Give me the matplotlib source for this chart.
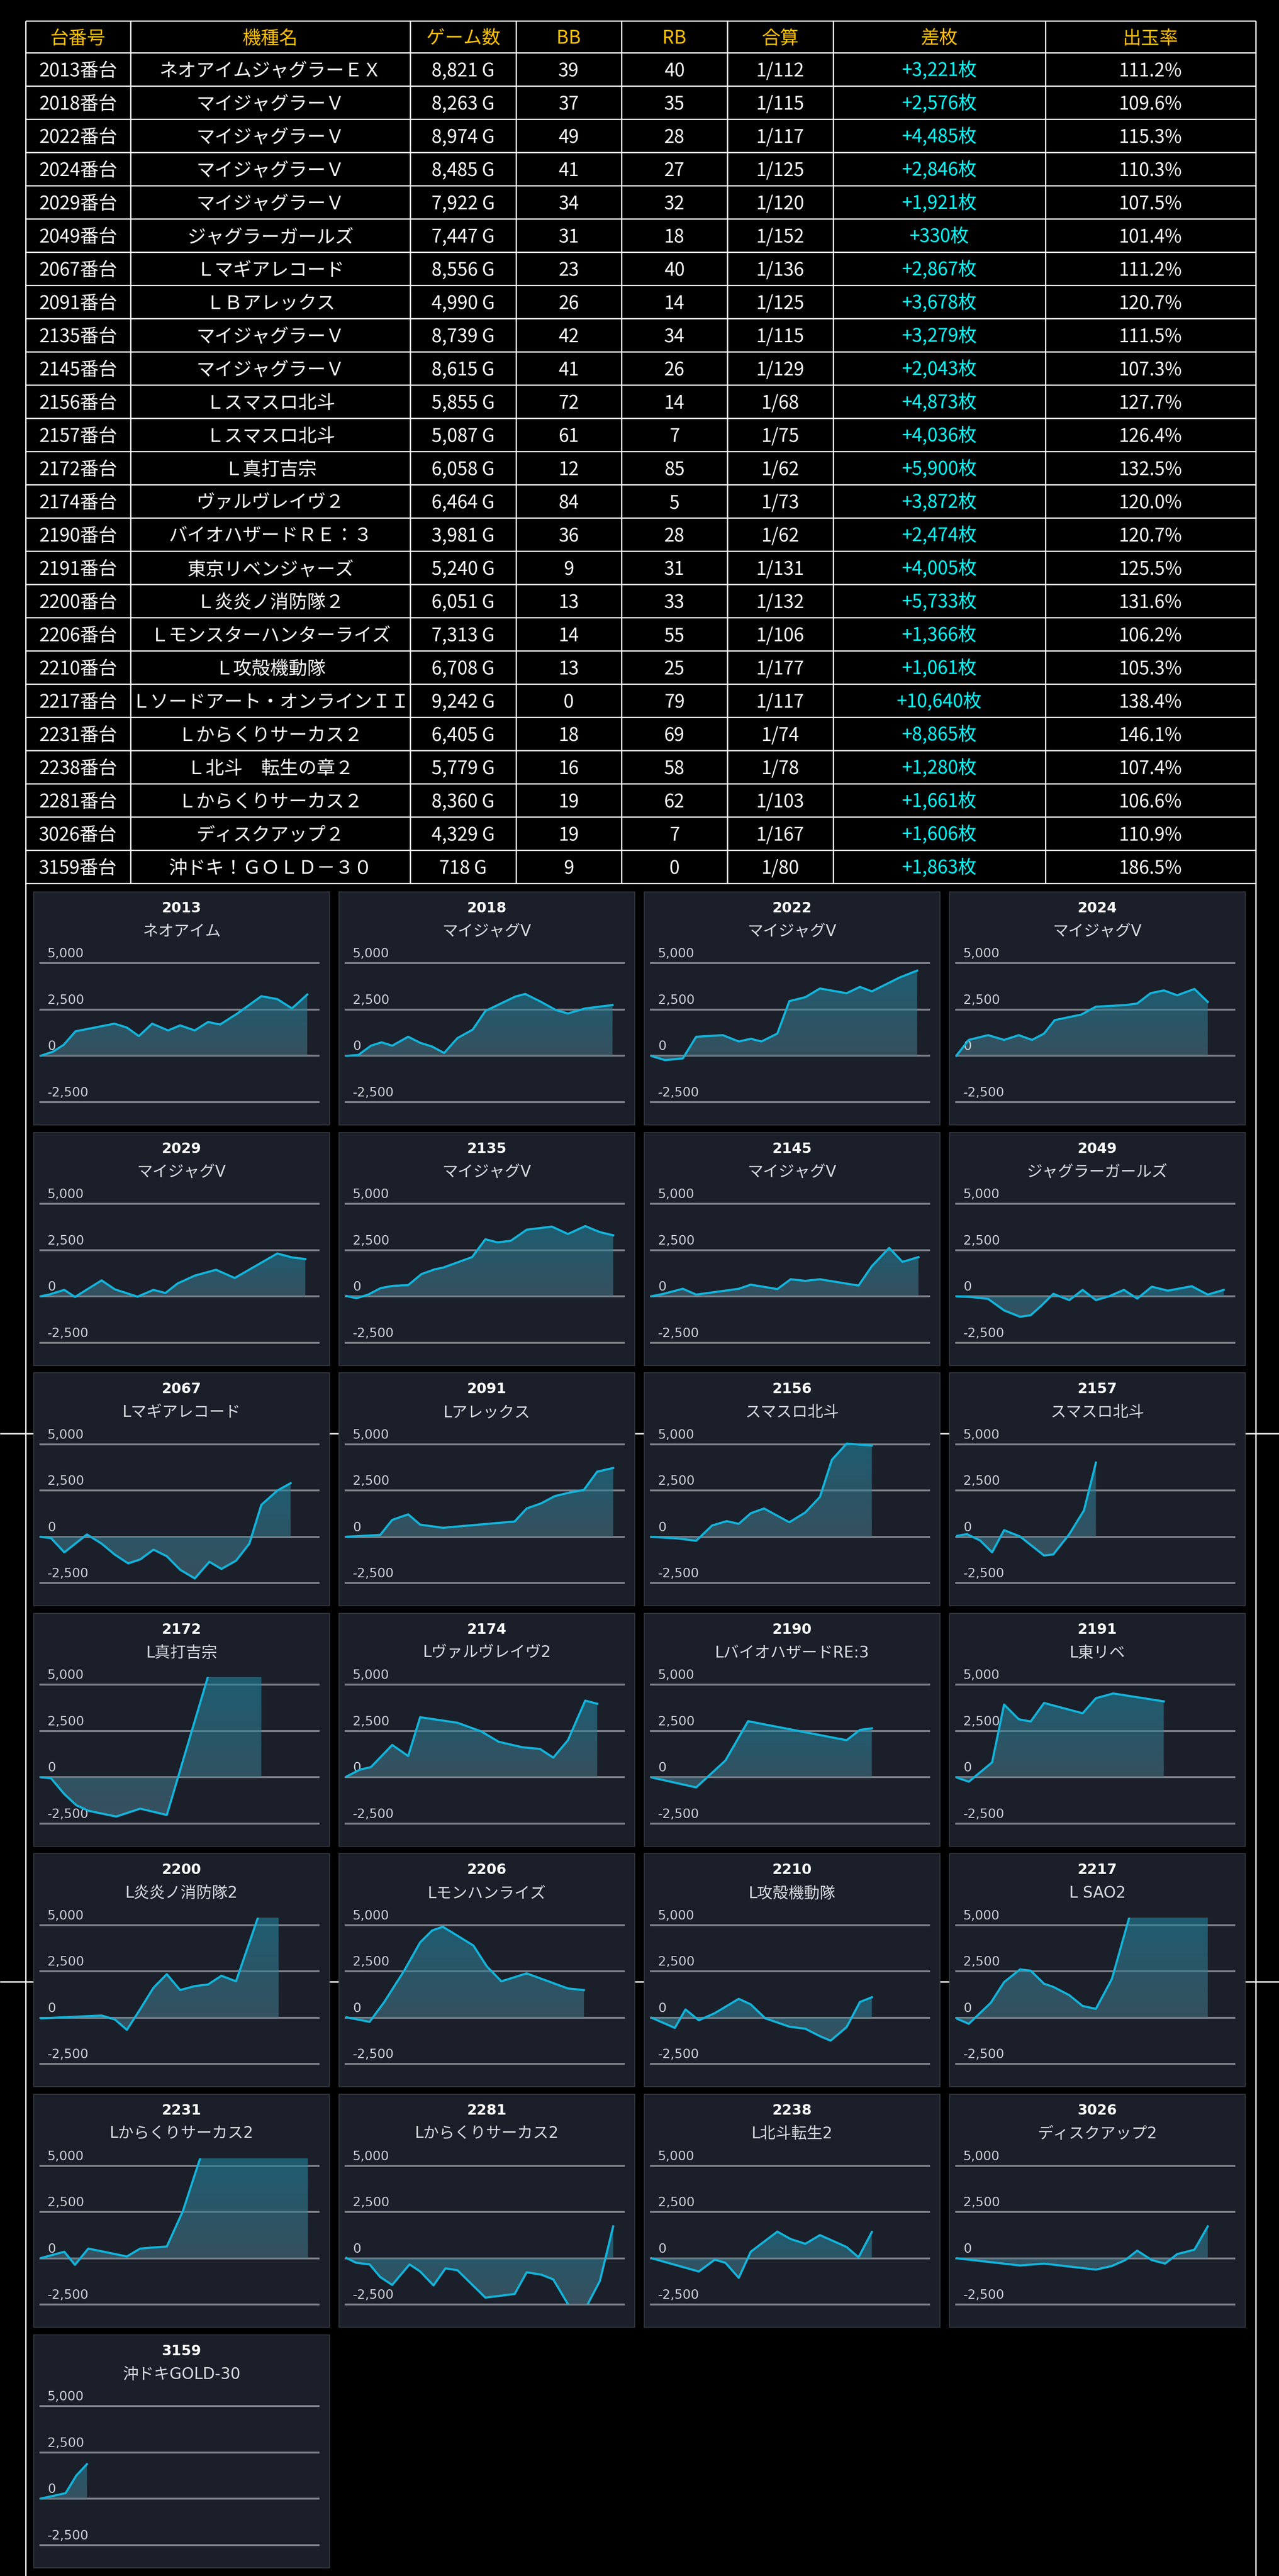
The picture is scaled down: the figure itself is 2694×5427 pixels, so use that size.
import numpy as np
import matplotlib
matplotlib.use("Agg")
import matplotlib.pyplot as plt
from matplotlib.patches import Rectangle
from matplotlib.path import Path
from matplotlib.colors import LinearSegmentedColormap

plt.rcParams['font.family'] = ['Noto Sans CJK JP', 'DejaVu Sans']

# ---- table data ----
machine_ids = [2013, 2018, 2022, 2024, 2029, 2049, 2067, 2091, 2135, 2145, 2156, 2157, 2172,
               2174, 2190, 2191, 2200, 2206, 2210, 2217, 2231, 2238, 2281, 3026, 3159]
machine_names = ["ネオアイムジャグラーＥＸ", "マイジャグラーＶ", "マイジャグラーＶ", "マイジャグラーＶ",
                 "マイジャグラーＶ", "ジャグラーガールズ", "Ｌマギアレコード", "ＬＢアレックス",
                 "マイジャグラーＶ", "マイジャグラーＶ", "Ｌスマスロ北斗", "Ｌスマスロ北斗", "Ｌ真打吉宗",
                 "ヴァルヴレイヴ２", "バイオハザードＲＥ：３", "東京リベンジャーズ", "Ｌ炎炎ノ消防隊２",
                 "Ｌモンスターハンターライズ", "Ｌ攻殻機動隊", "Ｌソードアート・オンラインＩＩ",
                 "Ｌからくりサーカス２", "Ｌ北斗　転生の章２", "Ｌからくりサーカス２", "ディスクアップ２",
                 "沖ドキ！ＧＯＬＤ－３０"]
games = [8821, 8263, 8974, 8485, 7922, 7447, 8556, 4990, 8739, 8615, 5855, 5087, 6058,
         6464, 3981, 5240, 6051, 7313, 6708, 9242, 6405, 5779, 8360, 4329, 718]
bb = [39, 37, 49, 41, 34, 31, 23, 26, 42, 41, 72, 61, 12, 84, 36, 9, 13, 14, 13, 0, 18, 16, 19, 19, 9]
rb = [40, 35, 28, 27, 32, 18, 40, 14, 34, 26, 14, 7, 85, 5, 28, 31, 33, 55, 25, 79, 69, 58, 62, 7, 0]
gousan = ["1/112", "1/115", "1/117", "1/125", "1/120", "1/152", "1/136", "1/125", "1/115", "1/129",
          "1/68", "1/75", "1/62", "1/73", "1/62", "1/131", "1/132", "1/106", "1/177", "1/117",
          "1/74", "1/78", "1/103", "1/167", "1/80"]
sa_mai = [3221, 2576, 4485, 2846, 1921, 330, 2867, 3678, 3279, 2043, 4873, 4036, 5900,
          3872, 2474, 4005, 5733, 1366, 1061, 10640, 8865, 1280, 1661, 1606, 1863]
payout = [111.2, 109.6, 115.3, 110.3, 107.5, 101.4, 111.2, 120.7, 111.5, 107.3, 127.7, 126.4, 132.5,
          120.0, 120.7, 125.5, 131.6, 106.2, 105.3, 138.4, 146.1, 107.4, 106.6, 110.9, 186.5]
headers = ["台番号", "機種名", "ゲーム数", "BB", "RB", "合算", "差枚", "出玉率"]

# ---- chart data (t = sample index, v = 差枚) ----
t_2013 = [0, 0.95, 1.75, 2.64, 5.57, 6.5, 7.4, 8.4, 9.6, 10.5, 11.6, 12.6, 13.5, 14.8, 16.6, 17.8, 18.9, 20.05]
v_2013 = [0, 229, 595, 1328, 1740, 1530, 1071, 1740, 1374, 1648, 1374, 1832, 1694, 2290, 3224, 3068, 2564, 3315]
t_2018 = [0, 0.95, 1.9, 2.7, 3.5, 4.7, 5.6, 6.5, 7.4, 8.4, 9.55, 10.5, 12.75, 13.5, 14.65, 15.8, 16.7, 18.0, 20.05]
v_2018 = [0, 46, 550, 733, 550, 1035, 705, 504, 156, 962, 1420, 2427, 3205, 3343, 2930, 2473, 2290, 2564, 2747]
t_2022 = [0, 1.07, 2.4, 3.4, 5.4, 6.6, 7.5, 8.3, 9.5, 10.4, 11.6, 12.7, 14.7, 15.7, 16.6, 18.7, 20.0]
v_2022 = [0, -230, -137, 1034, 1120, 778, 923, 778, 1205, 2957, 3171, 3641, 3385, 3726, 3487, 4239, 4607]
t_2024 = [0, 0.95, 2.4, 3.6, 4.7, 5.7, 6.6, 7.4, 9.4, 10.5, 12.7, 13.6, 14.6, 15.6, 16.6, 17.9, 18.9]
v_2024 = [0, 863, 1120, 863, 1120, 863, 1205, 1932, 2231, 2658, 2744, 2829, 3385, 3538, 3274, 3615, 2915]
t_2029 = [0, 0.65, 1.8, 2.6, 4.6, 5.6, 7.3, 8.5, 9.4, 10.3, 11.6, 13.2, 14.6, 17.8, 18.9, 19.9]
v_2029 = [0, 94, 350, -34, 863, 376, -17, 350, 180, 692, 1120, 1436, 991, 2316, 2103, 2017]
t_2135 = [0, 0.8, 1.7, 2.6, 3.5, 4.7, 5.7, 6.7, 7.3, 9.5, 10.5, 11.4, 12.4, 13.6, 15.5, 16.7, 18.0, 19.1, 20.1]
v_2135 = [34, -103, 94, 436, 564, 607, 1205, 1462, 1547, 2120, 3085, 2915, 3000, 3598, 3769, 3368, 3795, 3470, 3299]
t_2145 = [0, 0.95, 2.4, 3.4, 6.6, 7.5, 9.5, 10.5, 11.6, 12.7, 15.6, 16.6, 17.9, 18.9, 20.1]
v_2145 = [0, 137, 410, 94, 410, 632, 393, 923, 838, 923, 581, 1632, 2615, 1863, 2120]
t_2049 = [0, 1.1, 2.4, 3.6, 4.8, 5.6, 6.4, 7.3, 8.5, 9.5, 10.5, 11.5, 12.6, 13.6, 14.7, 15.9, 17.7, 18.9, 20.1]
v_2049 = [0, -34, -137, -760, -1103, -1017, -504, 137, -205, 350, -205, 9, 350, -120, 521, 308, 547, 94, 350]
t_2067 = [0, 0.8, 1.8, 3.5, 4.6, 5.6, 6.6, 7.5, 8.5, 9.5, 10.5, 11.6, 12.7, 13.6, 14.7, 15.7, 16.6, 17.8, 18.8]
v_2067 = [0, -68, -838, 128, -368, -966, -1436, -1222, -692, -1051, -1778, -2248, -1350, -1735, -1290, -368, 1726, 2496, 2897]
t_2091 = [0, 2.6, 3.5, 4.7, 5.6, 7.3, 12.7, 13.6, 14.7, 15.7, 16.8, 17.9, 18.9, 20.1]
v_2091 = [0, 103, 915, 1214, 658, 487, 829, 1530, 1812, 2197, 2385, 2538, 3521, 3718]
t_2156 = [0, 2.1, 3.4, 4.6, 5.7, 6.6, 7.5, 8.5, 10.4, 11.6, 12.7, 13.6, 14.7, 16.6]
v_2156 = [0, -94, -214, 615, 846, 701, 1273, 1530, 786, 1316, 2154, 4162, 5034, 4932]
t_2157 = [0, 0.8, 1.8, 2.7, 3.6, 4.8, 6.6, 7.3, 8.5, 9.6, 10.5]
v_2157 = [43, 145, -197, -838, 359, 17, -1008, -949, 145, 1427, 4009]
t_2172 = [0, 0.8, 1.8, 2.7, 3.6, 5.7, 7.5, 9.5, 12.7, 16.6]
v_2172 = [0, -50, -907, -1507, -1806, -2123, -1695, -2037, 5700, 5900]
t_2174 = [0, 1.1, 1.9, 3.5, 4.7, 5.6, 8.4, 10.2, 11.5, 13.3, 14.6, 15.6, 16.7, 18.0, 18.9]
v_2174 = [17, 419, 548, 1746, 1147, 3244, 2945, 2474, 1917, 1618, 1532, 1061, 2003, 4143, 3972]
t_2190 = [0, 3.4, 5.6, 7.3, 14.7, 15.7, 16.6]
v_2190 = [0, -548, 907, 3030, 2003, 2559, 2645]
t_2191 = [0, 0.95, 2.7, 3.6, 4.7, 5.6, 6.6, 9.5, 10.5, 11.8, 15.6]
v_2191 = [0, -240, 805, 3930, 3133, 3013, 4015, 3458, 4272, 4528, 4100]
t_2200 = [0, 4.6, 5.6, 6.5, 7.5, 8.5, 9.5, 10.5, 11.6, 12.6, 13.6, 14.7, 16.5, 17.9]
v_2200 = [-34, 120, -94, -653, 464, 1624, 2354, 1495, 1709, 1795, 2268, 1967, 5733, 5733]
t_2206 = [0, 1.8, 2.9, 4.4, 5.6, 6.5, 7.3, 8.4, 9.6, 10.6, 11.7, 13.6, 16.7, 17.9]
v_2206 = [34, -223, 850, 2543, 4072, 4716, 4913, 4432, 3900, 2783, 1967, 2397, 1581, 1495]
t_2210 = [0, 1.8, 2.6, 3.6, 4.8, 6.6, 7.5, 8.6, 10.4, 11.6, 12.7, 13.5, 14.7, 15.7, 16.6]
v_2210 = [17, -550, 447, -137, 249, 1022, 722, -34, -481, -593, -996, -1237, -507, 850, 1108]
t_2217 = [0, 0.95, 2.6, 3.6, 4.8, 5.6, 6.6, 7.3, 8.5, 9.5, 10.5, 11.7, 13.6, 15.6, 18.9]
v_2217 = [-34, -326, 807, 1924, 2611, 2543, 1838, 1666, 1220, 636, 481, 2096, 6940, 9800, 10640]
t_2231 = [0, 1.8, 2.6, 3.6, 6.5, 7.5, 8.5, 9.5, 10.7, 12.6, 15.0, 20.1]
v_2231 = [0, 350, -359, 521, 94, 521, 581, 632, 2530, 6700, 8500, 8865]
t_2281 = [0, 0.8, 1.8, 2.6, 3.5, 4.8, 5.6, 6.6, 7.5, 8.4, 10.5, 12.7, 13.6, 14.7, 15.6, 16.8, 18.1, 19.1, 20.1]
v_2281 = [34, -248, -333, -1017, -1445, -333, -718, -1470, -547, -650, -2129, -1932, -761, -889, -1146, -2600, -2600, -1231, 1719]
t_2238 = [0, 3.6, 4.8, 5.6, 6.6, 7.5, 9.5, 10.5, 11.6, 12.7, 14.7, 15.6, 16.6]
v_2238 = [9, -718, -77, -248, -1060, 350, 1436, 1034, 778, 1248, 607, 51, 1419]
t_3026 = [0, 4.8, 6.6, 10.5, 11.7, 12.7, 13.6, 14.7, 15.7, 16.6, 17.9, 18.9]
v_3026 = [0, -393, -291, -616, -419, -103, 410, -103, -291, 222, 462, 1719]
t_3159 = [0, 1.9, 2.7, 3.5]
v_3159 = [0, 299, 1250, 1866]

chart_ids = [2013, 2018, 2022, 2024, 2029, 2135, 2145, 2049, 2067, 2091, 2156, 2157, 2172,
             2174, 2190, 2191, 2200, 2206, 2210, 2217, 2231, 2281, 2238, 3026, 3159]
chart_names = ["ネオアイム", "マイジャグV", "マイジャグV", "マイジャグV", "マイジャグV", "マイジャグV",
               "マイジャグV", "ジャグラーガールズ", "Lマギアレコード", "Lアレックス", "スマスロ北斗",
               "スマスロ北斗", "L真打吉宗", "Lヴァルヴレイヴ2", "LバイオハザードRE:3", "L東リベ",
               "L炎炎ノ消防隊2", "Lモンハンライズ", "L攻殻機動隊", "L SAO2", "Lからくりサーカス2",
               "Lからくりサーカス2", "L北斗転生2", "ディスクアップ2", "沖ドキGOLD-30"]
series = {2013: (t_2013, v_2013), 2018: (t_2018, v_2018), 2022: (t_2022, v_2022), 2024: (t_2024, v_2024),
          2029: (t_2029, v_2029), 2135: (t_2135, v_2135), 2145: (t_2145, v_2145), 2049: (t_2049, v_2049),
          2067: (t_2067, v_2067), 2091: (t_2091, v_2091), 2156: (t_2156, v_2156), 2157: (t_2157, v_2157),
          2172: (t_2172, v_2172), 2174: (t_2174, v_2174), 2190: (t_2190, v_2190), 2191: (t_2191, v_2191),
          2200: (t_2200, v_2200), 2206: (t_2206, v_2206), 2210: (t_2210, v_2210), 2217: (t_2217, v_2217),
          2231: (t_2231, v_2231), 2281: (t_2281, v_2281), 2238: (t_2238, v_2238), 3026: (t_3026, v_3026),
          3159: (t_3159, v_3159)}
y_ticks = [5000, 2500, 0, -2500]
y_labels = ["5,000", "2,500", "0", "-2,500"]

# ---- layout / style ----
W, H = 2694, 5427
DPI = 72
YMIN, YMAX = -2510, 5410
XMAX = 20.9
col_x = [54, 275, 864, 1087, 1309, 1532, 1755, 2202, 2645]
tab_top, head_h, row_h = 44, 67, 70
PANEL_BG = '#1b1f2a'
LINE_C = '#12b4da'
GRID_C = '#7e8189'
FILL_TOP = (34/255, 133/255, 159/255)
FILL_BOT = (74/255, 113/255, 129/255)
chart_font = ['DejaVu Sans', 'Noto Sans CJK JP']

fig = plt.figure(figsize=(W / DPI, H / DPI), dpi=DPI, facecolor='black')
bg = fig.add_axes([0, 0, 1, 1])
bg.set_xlim(0, W)
bg.set_ylim(H, 0)
bg.axis('off')

# table grid
n_rows = len(machine_ids)
row_lines = [tab_top, tab_top + head_h] + [tab_top + head_h + row_h * (i + 1) for i in range(n_rows)]
tab_bot = row_lines[-1]
bg.hlines(row_lines, col_x[0], col_x[-1], color='white', lw=2.6, zorder=1)
bg.vlines(col_x[1:-1], tab_top, tab_bot, color='white', lw=2.6, zorder=1)
bg.vlines([col_x[0], col_x[-1]], tab_top, H, color='white', lw=2.8, zorder=1)
# stray row lines that show between the panels
bg.hlines([3020, 4175], 0, W, color='white', lw=3, zorder=1)

centers = [(col_x[i] + col_x[i + 1]) / 2 for i in range(len(col_x) - 1)]
head_y = tab_top + head_h / 2
for cx, h in zip(centers, headers):
    bg.text(cx, head_y + 15, h, ha='center', va='baseline', fontsize=39, color='#ffc000')

for i in range(n_rows):
    cy = tab_top + head_h + row_h * i + row_h / 2 + 15
    cells = [f"{machine_ids[i]}番台", machine_names[i], f"{games[i]:,} G", str(bb[i]), str(rb[i]),
             gousan[i], f"+{sa_mai[i]:,}枚", f"{payout[i]:.1f}%"]
    for j, (cx, s) in enumerate(zip(centers, cells)):
        bg.text(cx, cy, s, ha='center', va='baseline', fontsize=39,
                color='#00ffff' if j == 6 else 'white')

# ---- small charts ----
cmap = LinearSegmentedColormap.from_list('fillgrad', [FILL_BOT, FILL_TOP])
grad = np.linspace(1, 0, 256).reshape(-1, 1)
px_per_unit = 97.5 / 2500

for k, cid in enumerate(chart_ids):
    r, c = divmod(k, 4)
    px = 71 + 643 * c
    py = 1879 + 506.6 * r
    bg.add_patch(Rectangle((px, py), 623, 491, facecolor=PANEL_BG, edgecolor='#3d414a', lw=1.5, zorder=2))
    bg.text(px + 311.5, py + 43, str(cid), ha='center', va='baseline', fontsize=30,
            fontweight='bold', color='white', family=chart_font, zorder=3)
    bg.text(px + 311.5, py + 93, chart_names[k], ha='center', va='baseline', fontsize=33,
            color='#d9dbe0', family=chart_font, zorder=3)

    top_px = py + 150.5 - (YMAX - 5000) * px_per_unit
    bot_px = py + 443 + (-2500 - YMIN) * px_per_unit
    ax = fig.add_axes([(px + 14) / W, 1 - bot_px / H, 586 / W, (bot_px - top_px) / H])
    ax.patch.set_visible(False)
    for s in ax.spines.values():
        s.set_visible(False)
    ax.set_xticks([])
    ax.set_yticks([])

    for yv, lab in zip(y_ticks, y_labels):
        ax.axhline(yv, color=GRID_C, lw=4, zorder=0.5, clip_on=False)
        ax.annotate(lab, xy=(15 / 586, yv), xycoords=('axes fraction', 'data'),
                    xytext=(0, 12), textcoords='offset points', ha='left', va='baseline',
                    fontsize=27, color='#cdd0d5', family=chart_font, annotation_clip=False)

    t, v = series[cid]
    lo, hi = max(min(min(v), 0), YMIN), min(max(max(v), 0), YMAX)
    im = ax.imshow(grad, extent=[t[0], t[-1], lo, hi], origin='upper', aspect='auto',
                   cmap=cmap, vmin=0, vmax=1, alpha=0.6, zorder=1)
    verts = list(zip(t, v)) + [(t[-1], 0), (t[0], 0), (t[0], v[0])]
    im.set_clip_path(Path(verts, closed=True), ax.transData)
    ax.plot(t, v, color=LINE_C, lw=4.5, zorder=3, solid_joinstyle='round')

    ax.set_xlim(0, XMAX)
    ax.set_ylim(YMIN, YMAX)

fig.savefig('out.png', dpi=DPI, facecolor='black')
